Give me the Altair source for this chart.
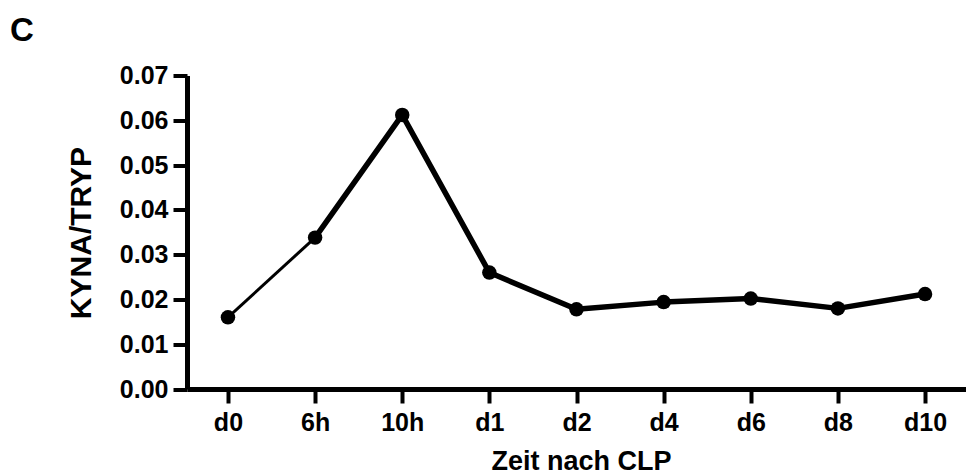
import altair as alt
import pandas as pd

# Time points after CLP and the KYNA/TRYP ratio measured at each
times = ["d0", "6h", "10h", "d1", "d2", "d4", "d6", "d8", "d10"]
ratios = [0.0160, 0.0338, 0.0612, 0.0260, 0.0178, 0.0194, 0.0202, 0.0180, 0.0212]
y_ticks = [0.00, 0.01, 0.02, 0.03, 0.04, 0.05, 0.06, 0.07]
panel = ["C"]

FONT = "Liberation Sans"

df = pd.DataFrame({"time": times, "ratio": ratios, "idx": list(range(len(times)))})

x_enc = alt.X(
    "time:N",
    sort=times,
    scale=alt.Scale(type="point", padding=0.47),
    axis=alt.Axis(
        title="Zeit nach CLP",
        labelAngle=0,
        labelFont=FONT,
        labelFontSize=25,
        labelFontWeight="bold",
        labelColor="black",
        labelPadding=7,
        tickSize=14,
        tickWidth=4,
        tickColor="black",
        domainWidth=5,
        domainColor="black",
        grid=False,
        titleFont=FONT,
        titleFontSize=27,
        titleFontWeight="bold",
        titleColor="black",
        titleX=394,
        titleY=80,
        titleBaseline="alphabetic",
    ),
)

y_enc = alt.Y(
    "ratio:Q",
    scale=alt.Scale(domain=[0, 0.07], nice=False, zero=True),
    axis=alt.Axis(
        title="KYNA/TRYP",
        values=y_ticks,
        format=".2f",
        labelFont=FONT,
        labelFontSize=25,
        labelFontWeight="bold",
        labelColor="black",
        labelPadding=5,
        tickSize=14,
        tickWidth=4,
        tickColor="black",
        domainWidth=5,
        domainColor="black",
        grid=False,
        titleFont=FONT,
        titleFontSize=30,
        titleFontWeight="bold",
        titleColor="black",
        titleX=-106,
        titleY=157,
        titleBaseline="middle",
    ),
)

base = alt.Chart(df).encode(x=x_enc, y=y_enc)

# First interval drawn thin, the rest with a heavier stroke
line_first = base.transform_filter("datum.idx <= 1").mark_line(
    color="black", strokeWidth=3
)
line_rest = base.transform_filter("datum.idx >= 1").mark_line(
    color="black", strokeWidth=5.5, strokeJoin="round"
)
points = base.mark_circle(color="black", size=210, opacity=1)

label = alt.Chart(pd.DataFrame({"panel": panel})).mark_text(
    align="left", baseline="alphabetic", font=FONT, fontSize=33,
    fontWeight="bold", color="black"
).encode(x=alt.value(-177), y=alt.value(-35), text="panel:N")

chart = (
    alt.layer(line_first, line_rest, points, label)
    .properties(
        width=779,
        height=313.5,
        autosize=alt.AutoSizeParams(type="none"),
        padding={"left": 187, "top": 75.5, "right": 0, "bottom": 85},
        background="white",
    )
    .configure_view(stroke=None)
)

chart.save("out.html", embed_options={"renderer": "svg", "actions": False})
